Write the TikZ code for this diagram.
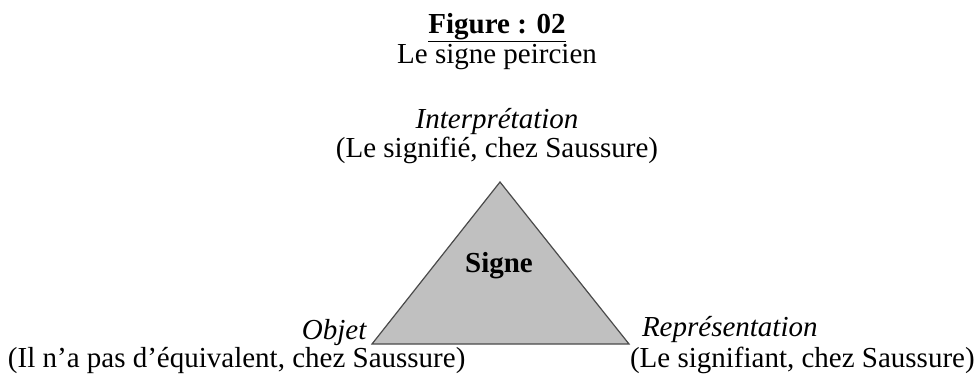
\documentclass[tikz,border=0pt]{standalone}
\usepackage{fontspec}
\setmainfont{Liberation Serif}
\definecolor{trifill}{HTML}{C0C0C0}
\definecolor{triedge}{HTML}{4A4A4A}
\tikzset{
  lbl/.style={inner sep=0pt, outer sep=0pt, font=\fontsize{29}{34}\selectfont},
  tri/.style={fill=trifill, draw=triedge, line width=1.2pt, line join=miter}
}
\begin{document}
\begin{tikzpicture}[x=1pt,y=-1pt]
\useasboundingbox (0,0) rectangle (979,378);
% titles
\node[lbl, anchor=base] (title) at (497,33) {\textbf{\underline{Figure : 02}}};
\node[lbl, anchor=base] (subtitle) at (497,63) {Le signe peircien};
% top vertex labels
\node[lbl, anchor=base] (interp) at (497,128) {\textit{Interprétation}};
\node[lbl, anchor=base] (signifie) at (497,157) {(Le signifié, chez Saussure)};
% triangle
\coordinate (apex) at (500,182);
\coordinate (bl) at (372,344);
\coordinate (br) at (629,344);
\draw[tri] (apex) -- (bl) -- (br) -- cycle;
\node[lbl, anchor=base] (signe) at (499,272) {\textbf{Signe}};
% bottom left labels
\node[lbl, anchor=base east] (objet) at (367,339) {\textit{Objet}};
\node[lbl, anchor=base west] (objdesc) at (8,367) {(Il n’a pas d’équivalent, chez Saussure)};
% bottom right labels
\node[lbl, anchor=base west] (repr) at (642,336) {\textit{Représentation}};
\node[lbl, anchor=base west] (signifiant) at (630,367) {(Le signifiant, chez Saussure)};
\end{tikzpicture}
\end{document}
